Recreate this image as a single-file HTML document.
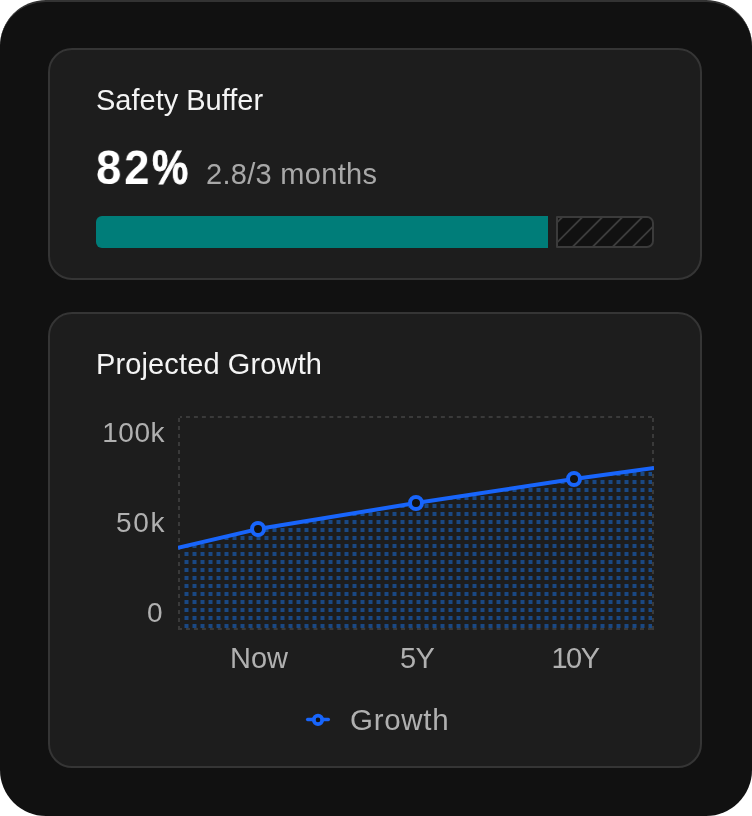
<!DOCTYPE html>
<html><head><meta charset="utf-8"><title>Safety Buffer</title>
<style>
*{box-sizing:border-box;margin:0;padding:0}
html,body{width:752px;height:816px;background:#fff;overflow:hidden}
body{position:relative;font-family:"Liberation Sans",Arial,sans-serif}
.t{will-change:transform}
.frame{position:absolute;left:0;top:0;width:752px;height:816px;background:#111;border-radius:46px;border-top:2px solid #333}
.card{position:absolute;left:48px;width:654px;background:#1d1d1d;border:2px solid #353535;border-radius:24px}
.c1{top:48px;height:232px}
.c2{top:312px;height:456px}
.t{position:absolute;white-space:nowrap;line-height:1}
.title{left:96px;font-size:29px;color:#f4f4f4}
.big{left:96px;top:142.5px;font-size:49px;font-weight:bold;color:#fff;letter-spacing:3px;transform:scaleX(0.93);transform-origin:0 0;}
.pct{left:152px;letter-spacing:0!important;transform:scaleX(0.83)!important;transform-origin:0 0;-webkit-text-stroke:0.8px #fff}
.sub{left:206px;top:160px;font-size:29px;color:#a8a8a8;letter-spacing:0.3px}
.teal{position:absolute;left:96px;top:216px;width:452px;height:32px;background:#007d79;border-radius:6px 0 0 6px}
.hatch{position:absolute;left:556px;top:216px;width:98px;height:32px;background:#111;border:2px solid #3b3b3b;border-radius:1px 7px 7px 1px;overflow:hidden}
.ylab{font-size:28px;color:#b0b0b0;text-align:right;width:100px;left:64.5px;letter-spacing:0.5px}
.xlab{font-size:29px;color:#b0b0b0;text-align:center;width:100px}
svg.ov{position:absolute;left:0;top:0}
</style></head><body>
<div class="frame"></div>
<div class="card c1"></div>
<div class="card c2"></div>

<div class="t title" style="top:86px">Safety Buffer</div>
<div class="t big">82</div><div class="t big pct">%</div>
<div class="t sub">2.8/3 months</div>
<div class="teal"></div>
<div class="hatch"><svg width="98" height="32" style="position:absolute;left:-2px;top:-2px">
<g stroke="#3d3d3d" stroke-width="1.85">
<line x1="-12.5" y1="0" x2="-52.5" y2="40"/>
<line x1="7.5" y1="0" x2="-32.5" y2="40"/>
<line x1="27.5" y1="0" x2="-12.5" y2="40"/>
<line x1="47.5" y1="0" x2="7.5" y2="40"/>
<line x1="67.5" y1="0" x2="27.5" y2="40"/>
<line x1="87.5" y1="0" x2="47.5" y2="40"/>
<line x1="107.5" y1="0" x2="67.5" y2="40"/>
<line x1="127.5" y1="0" x2="87.5" y2="40"/>
</g></svg></div>

<div class="t title" style="top:350px;letter-spacing:0.13px">Projected Growth</div>

<div class="t ylab" style="top:419px">100k</div>
<div class="t ylab" style="top:509px;letter-spacing:1.6px;left:66px">50k</div>
<div class="t ylab" style="top:599px;left:62.5px">0</div>

<svg class="ov" width="752" height="816" viewBox="0 0 752 816">
<defs>
<pattern id="dots" patternUnits="userSpaceOnUse" width="8" height="8">
<rect x="0.5" y="0" width="4" height="4" fill="#1a4883"/>
</pattern>
<clipPath id="pc"><rect x="178" y="416" width="476" height="214"/></clipPath>
<clipPath id="pi"><rect x="181" y="418" width="471" height="210"/></clipPath>
</defs>
<g fill="none" stroke="#3a3a3a" stroke-width="2" stroke-dasharray="4 4">
<line x1="180" y1="417" x2="654" y2="417" stroke-dasharray="3.983 3.983" stroke-dashoffset="2"/>
<line x1="179" y1="418" x2="179" y2="630"/>
<line x1="653" y1="418" x2="653" y2="630"/>
<line x1="178" y1="629" x2="654" y2="629" stroke-dasharray="3.983 3.983"/>
</g>
<polygon clip-path="url(#pi)" points="178,547.8 258,529 416,503 574,479 654,468 654,630 178,630" fill="url(#dots)"/>
<g clip-path="url(#pc)">
<polyline points="178,547.8 258,529 416,503 574,479 654,468" fill="none" stroke="#1865fb" stroke-width="4" stroke-linejoin="round"/>
</g>
<g fill="#111" stroke="#1865fb" stroke-width="4">
<circle cx="258" cy="529" r="6"/>
<circle cx="416" cy="503" r="6"/>
<circle cx="574" cy="479" r="6"/>
</g>
<g stroke="#1865fb" fill="none">
<line x1="307.6" y1="719.5" x2="328.4" y2="719.5" stroke-width="3.3" stroke-linecap="round"/>
<circle cx="318" cy="719.9" r="4.2" stroke-width="3.8" fill="#111"/>
</g>
</svg>

<div class="t xlab" style="left:209px;top:643.5px">Now</div>
<div class="t xlab" style="left:366.5px;top:643.5px;letter-spacing:-0.8px">5Y</div>
<div class="t xlab" style="left:524.5px;top:643.5px;letter-spacing:-1.5px">10Y</div>

<div class="t" style="left:350px;top:705px;font-size:29.5px;color:#b0b0b0;letter-spacing:0.7px">Growth</div>
</body></html>
